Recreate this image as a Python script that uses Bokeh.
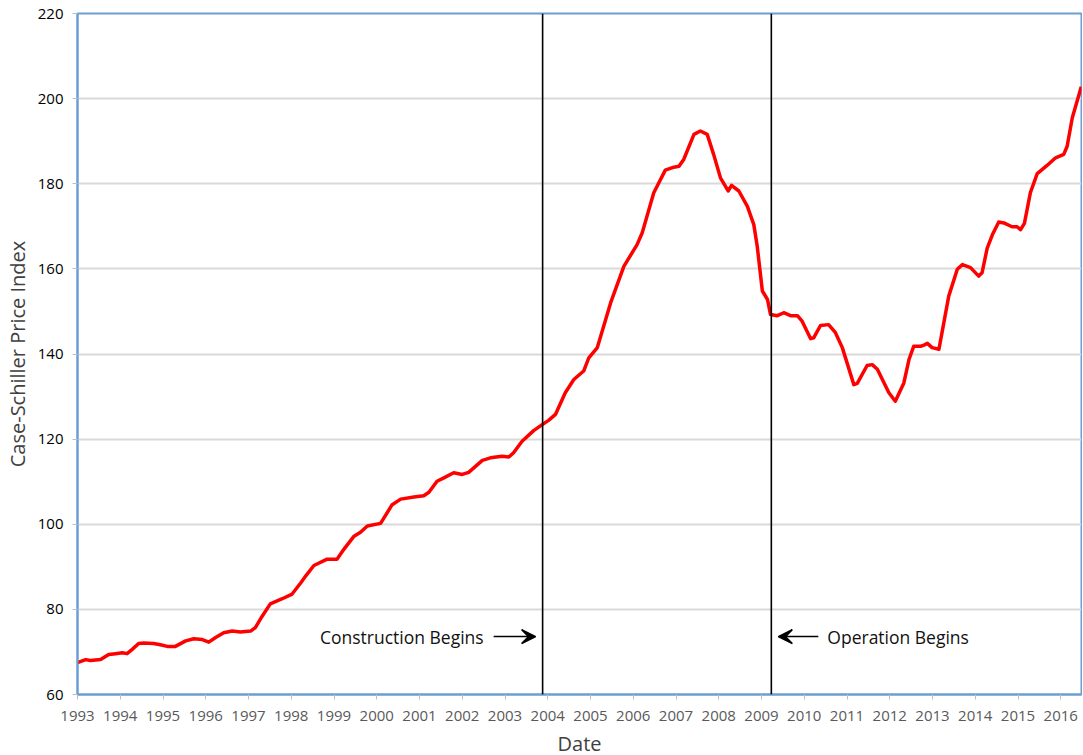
from bokeh.plotting import figure
from bokeh.models import Span, Label, Arrow, VeeHead, FixedTicker, Range1d
from bokeh.embed import file_html
from bokeh.resources import INLINE

# ---- data (decimal year, Case-Shiller index) ----
dates = [1993.00, 1993.19, 1993.30, 1993.54, 1993.73, 1993.89, 1994.05, 1994.16, 1994.28, 1994.43,
         1994.55, 1994.78, 1994.94, 1995.10, 1995.29, 1995.53, 1995.72, 1995.92, 1996.07, 1996.23,
         1996.42, 1996.62, 1996.81, 1997.05, 1997.16, 1997.32, 1997.51, 1997.79, 1998.02, 1998.22,
         1998.35, 1998.53, 1998.84, 1999.07, 1999.23, 1999.46, 1999.62, 1999.78, 2000.09, 2000.36,
         2000.56, 2000.87, 2001.10, 2001.22, 2001.41, 2001.57, 2001.80, 2002.00, 2002.15, 2002.47,
         2002.66, 2002.93, 2003.09, 2003.20, 2003.40, 2003.67, 2003.87, 2004.02, 2004.18, 2004.41,
         2004.61, 2004.84, 2004.96, 2005.16, 2005.47, 2005.78, 2006.09, 2006.21, 2006.48, 2006.75,
         2006.95, 2007.07, 2007.18, 2007.42, 2007.57, 2007.73, 2007.88, 2008.04, 2008.22, 2008.30,
         2008.47, 2008.67, 2008.82, 2008.90, 2008.98, 2009.02, 2009.14, 2009.21, 2009.37, 2009.52,
         2009.68, 2009.84, 2009.95, 2010.15, 2010.22, 2010.38, 2010.57, 2010.73, 2010.89, 2011.16,
         2011.24, 2011.47, 2011.59, 2011.71, 2011.98, 2012.13, 2012.33, 2012.45, 2012.56, 2012.72,
         2012.80, 2012.88, 2012.99, 2013.15, 2013.38, 2013.58, 2013.70, 2013.89, 2014.08, 2014.16,
         2014.28, 2014.40, 2014.55, 2014.67, 2014.86, 2014.98, 2015.06, 2015.15, 2015.29, 2015.45,
         2015.68, 2015.88, 2016.07, 2016.15, 2016.27, 2016.48]
index = [67.5, 68.2, 68.0, 68.2, 69.4, 69.6, 69.8, 69.6, 70.6, 72.0,
         72.1, 72.0, 71.7, 71.3, 71.3, 72.6, 73.1, 72.9, 72.3, 73.4,
         74.5, 74.9, 74.7, 74.9, 75.7, 78.4, 81.3, 82.5, 83.6, 86.2,
         88.0, 90.3, 91.8, 91.8, 94.1, 97.1, 98.1, 99.6, 100.2, 104.6,
         105.9, 106.4, 106.7, 107.5, 110.1, 110.9, 112.1, 111.7, 112.2, 115.0,
         115.6, 116.0, 115.8, 116.8, 119.5, 122.0, 123.4, 124.4, 125.8, 130.9,
         134.0, 136.0, 139.1, 141.5, 152.0, 160.6, 165.7, 168.5, 177.9, 183.2,
         183.9, 184.1, 185.7, 191.6, 192.4, 191.6, 186.9, 181.4, 178.3, 179.6,
         178.3, 174.7, 170.4, 165.3, 158.3, 154.8, 152.8, 149.3, 149.0, 149.7,
         149.0, 149.0, 147.7, 143.6, 143.8, 146.7, 146.9, 145.0, 141.5, 132.8,
         133.1, 137.3, 137.5, 136.4, 130.9, 128.9, 133.2, 138.7, 141.8, 141.8,
         142.1, 142.5, 141.5, 141.1, 153.6, 159.9, 161.0, 160.3, 158.3, 159.1,
         164.9, 168.0, 171.0, 170.8, 169.9, 169.9, 169.2, 170.7, 177.9, 182.4,
         184.3, 186.1, 186.9, 188.8, 195.5, 202.8]

year_ticks = list(range(1993, 2017))
y_ticks = [60, 80, 100, 120, 140, 160, 180, 200, 220]
construction_date = 2003.88
operation_date = 2009.23
construction_text = "Construction Begins"
operation_text = "Operation Begins"

FONT = "Open Sans"
FRAME_BLUE = "#6A9ED4"
PX_PER_YEAR = 42.75

p = figure(frame_width=1004, frame_height=681, output_backend="svg", toolbar_location=None,
           x_range=Range1d(1993, 1993 + 1004 / PX_PER_YEAR), y_range=Range1d(60, 220),
           min_border_left=69, min_border_top=13, min_border_right=1, min_border_bottom=50)

p.outline_line_color = FRAME_BLUE
p.outline_line_width = 2
p.background_fill_color = "white"

p.line(dates, index, line_color="#FF0000", line_width=3.5, line_join="round")

for d in (construction_date, operation_date):
    p.add_layout(Span(location=d, dimension="height", line_color="#000000", line_width=1.6))

ann_y = 73.6
p.add_layout(Label(x=construction_date, y=ann_y, x_offset=-59, text=construction_text,
                   text_align="right", text_baseline="middle", text_font=FONT,
                   text_font_size="17.5px", text_color="#111111"))
p.add_layout(Label(x=operation_date, y=ann_y, x_offset=56, text=operation_text,
                   text_align="left", text_baseline="middle", text_font=FONT,
                   text_font_size="17.5px", text_color="#111111"))
p.add_layout(Arrow(x_start=construction_date - 49 / PX_PER_YEAR, y_start=ann_y,
                   x_end=construction_date - 7 / PX_PER_YEAR, y_end=ann_y,
                   line_width=1.5, line_color="black",
                   end=VeeHead(size=14, fill_color="black", line_color="black", line_width=1.5)))
p.add_layout(Arrow(x_start=operation_date + 47 / PX_PER_YEAR, y_start=ann_y,
                   x_end=operation_date + 7 / PX_PER_YEAR, y_end=ann_y,
                   line_width=1.5, line_color="black",
                   end=VeeHead(size=14, fill_color="black", line_color="black", line_width=1.5)))

p.xgrid.visible = False
p.ygrid.ticker = FixedTicker(ticks=y_ticks)
p.ygrid.grid_line_color = "#D9D9D9"
p.ygrid.grid_line_width = 2

p.xaxis.ticker = FixedTicker(ticks=year_ticks)
p.xaxis.major_label_overrides = {y: str(y) for y in year_ticks}
p.yaxis.ticker = FixedTicker(ticks=y_ticks)

for ax in (p.xaxis, p.yaxis):
    ax.axis_line_color = FRAME_BLUE
    ax.axis_line_width = 2
    ax.major_tick_line_color = "#BFBFBF"
    ax.major_tick_line_width = 1
    ax.major_tick_in = 0
    ax.major_tick_out = 5
    ax.minor_tick_line_color = None
    ax.major_label_text_font = FONT
    ax.major_label_text_font_size = "15px"
    ax.axis_label_text_font = FONT
    ax.axis_label_text_font_style = "normal"
    ax.axis_label_text_color = "#404040"
    ax.axis_label_text_font_size = "20px"

p.xaxis.major_label_text_color = "#595959"
p.yaxis.major_label_text_color = "#000000"
p.xaxis.major_label_standoff = 11
p.yaxis.major_label_standoff = 9
p.xaxis.axis_label = "Date"
p.yaxis.axis_label = "Case-Schiller Price Index"
p.xaxis.axis_label_standoff = 6
p.yaxis.axis_label_standoff = 4

open("out.html", "w").write(file_html(p, INLINE))
